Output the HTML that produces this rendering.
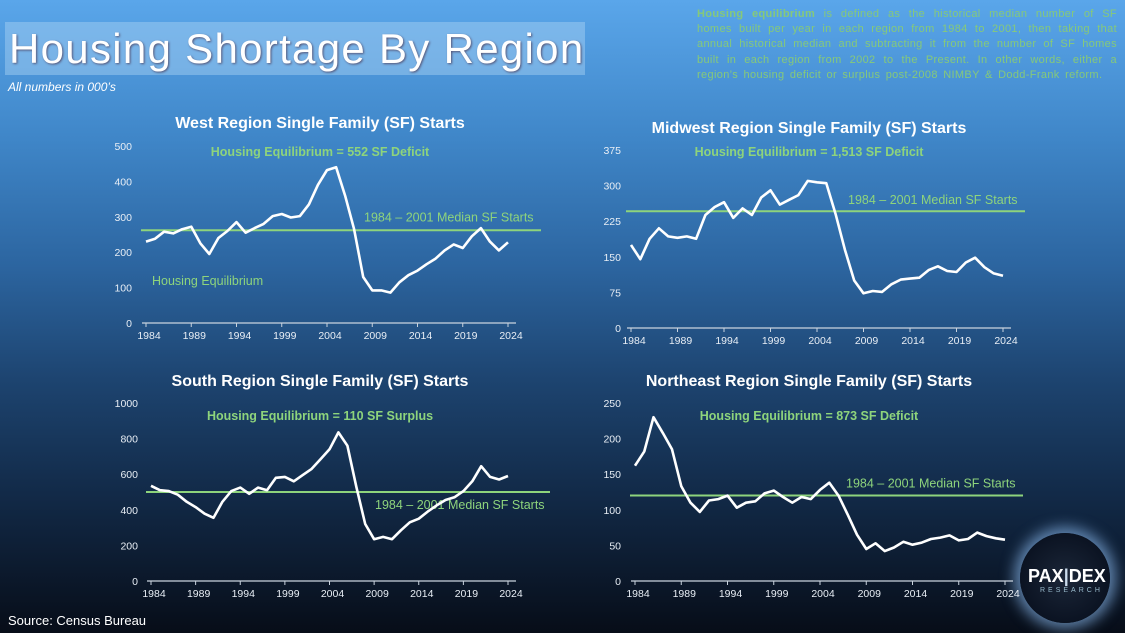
<!DOCTYPE html>
<html><head><meta charset="utf-8">
<style>
html,body{margin:0;padding:0}
body{width:1125px;height:633px;overflow:hidden;position:relative;font-family:"Liberation Sans",sans-serif;
background:linear-gradient(180deg,#5aa6ea 0%,#3f86c8 22%,#2c65a0 42%,#1d4470 60%,#122a48 78%,#070d18 100%);}
#title{position:absolute;left:5px;top:22px;width:580px;height:53px;background:rgba(170,210,245,0.45);}
#title span{position:absolute;left:4px;top:3px;font-size:42px;color:#fff;letter-spacing:1.3px;white-space:nowrap;text-shadow:1px 1px 2px #557;}
#sub{position:absolute;left:8px;top:80px;font-size:12px;font-style:italic;color:#fff;}
#note{position:absolute;left:697px;top:7px;width:420px;font-size:11px;line-height:15.2px;color:#86c97a;text-align:justify;letter-spacing:0.35px;word-spacing:2px;}
#src{position:absolute;left:8px;top:613px;font-size:13px;color:#fff;}
#logo{position:absolute;left:1020px;top:533px;width:90px;height:90px;border-radius:50%;
background:radial-gradient(circle,#1b2638 0%,#0b1322 70%,#2a4a70 100%);box-shadow:0 0 14px 6px rgba(150,200,255,0.6);}
#logo .t{position:absolute;left:8px;top:33px;font-size:18px;color:#fff;font-weight:bold;letter-spacing:0}
#logo .r{position:absolute;left:20px;top:54px;font-size:7px;color:#9bc;letter-spacing:3px}
svg{position:absolute;left:0;top:0}
</style></head><body>
<div id="title"><span>Housing Shortage By Region</span></div>
<div id="sub">All numbers in 000’s</div>
<div id="note"><b>Housing equilibrium</b> is defined as the historical median number of SF homes built per year in each region from 1984 to 2001, then taking that annual historical median and subtracting it from the number of SF homes built in each region from 2002 to the Present. In other words, either a region’s housing deficit or surplus post-2008 NIMBY &amp; Dodd-Frank reform.</div>
<div id="src">Source: Census Bureau</div>
<div id="logo"><span class="t">PAX<span style="color:#cde">|</span>DEX</span><span class="r">RESEARCH</span></div>
<svg id="svg" width="1125" height="633"></svg>
<script>
const years = [];
for (let y = 1984; y <= 2024; y++) years.push(y);
const tickYears = [1984,1989,1994,1999,2004,2009,2014,2019,2024];
const westValues = [230,238,258,253,265,272,225,195,240,260,285,255,268,280,302,308,298,302,335,390,432,440,360,265,130,92,92,86,115,135,148,166,182,205,222,212,245,268,230,205,228];
const midwestValues = [175,145,188,210,193,190,193,188,238,255,265,232,252,238,275,290,260,270,280,310,307,305,240,165,100,73,78,76,92,102,104,106,122,130,120,118,138,148,128,115,110];
const southValues = [535,510,505,485,445,415,378,355,445,505,525,490,525,510,580,585,560,595,630,685,740,835,760,530,320,235,248,235,285,330,350,390,425,455,470,505,560,645,585,570,590];
const northeastValues = [162,182,230,208,185,133,110,97,113,115,120,103,110,112,123,127,118,110,118,115,128,138,120,93,65,45,53,42,47,55,51,54,59,61,64,57,59,68,63,60,58];
const westTicks = [0,100,200,300,400,500];
const midwestTicks = [0,75,150,225,300,375];
const southTicks = [0,200,400,600,800,1000];
const northeastTicks = [0,50,100,150,200,250];
const westMedian = 262, midwestMedian = 246, southMedian = 500, northeastMedian = 120;

const NS = "http://www.w3.org/2000/svg";
const svg = document.getElementById('svg');
function mk(tag, attrs, parent){ const e=document.createElementNS(NS,tag); for(const k in attrs) e.setAttribute(k,attrs[k]); (parent||svg).appendChild(e); return e; }

function chart(key, title, subtitle, values, ticks, median, L){
  const g = mk('g',{});
  
  
  const yMax = ticks[ticks.length-1];
  const x = yr => L.x0 + (yr-1984)/(2024-1984)*(L.x1-L.x0);
  const y = v => L.y0 - v/yMax*(L.y0-L.yTop);
  const t = mk('text',{x:L.cx,y:L.titleY,'text-anchor':'middle','font-size':16,'font-weight':'bold',fill:'#fff'},g);
  t.textContent = title;
  
  
  const s = mk('text',{x:L.cx,y:L.subY,'text-anchor':'middle','font-size':12.5,'font-weight':'bold',fill:'#8ed47c'},g);
  s.textContent = subtitle;
  
  
  ticks.forEach(v=>{
    const tl = mk('text',{x:L.yLabX,y:y(v)+4,'text-anchor':'end','font-size':10.5,fill:'#e8eef5'},g);
    tl.textContent = v;
    
    
  });
  const ax = mk('line',{x1:L.x0-4,x2:L.x1+8,y1:L.y0,y2:L.y0,stroke:'#c9d3de','stroke-width':1.2},g);
  
  
  tickYears.forEach(yr=>{
    mk('line',{x1:x(yr),x2:x(yr),y1:L.y0,y2:L.y0+4,stroke:'#c9d3de','stroke-width':1},g);
    const xl = mk('text',{x:x(yr)+3,y:L.y0+16,'text-anchor':'middle','font-size':10.5,fill:'#e8eef5'},g);
    xl.textContent = yr;
    
    
  });
  const ml = mk('line',{x1:L.x0-5,x2:L.mEnd,y1:y(median),y2:y(median),stroke:'#8ed47c','stroke-width':2},g);
  
  
  const mt = mk('text',{x:L.mTextX,y:y(median)+L.mTextDy,'font-size':12.5,fill:'#8ed47c'},g);
  mt.textContent = '1984 – 2001 Median SF Starts';
  
  
  const d = values.map((v,i)=>(i?'L':'M')+x(years[i]).toFixed(1)+','+y(v).toFixed(1)).join(' ');
  const p = mk('path',{d:d,fill:'none',stroke:'#fff','stroke-width':2.6,'stroke-linejoin':'round'},g);
  
  
  return {g,x,y};
}

const w = chart('west','West Region Single Family (SF) Starts','Housing Equilibrium = 552 SF Deficit',westValues,westTicks,westMedian,
  {x0:146,x1:508,y0:323,yTop:146,cx:320,titleY:128,subY:156,yLabX:132,mEnd:541,mTextX:364,mTextDy:-9});
const he = mk('text',{x:152,y:285,'font-size':12.5,fill:'#8ed47c'},w.g);
he.textContent = 'Housing Equilibrium';


chart('midwest','Midwest Region Single Family (SF) Starts','Housing Equilibrium = 1,513 SF Deficit',midwestValues,midwestTicks,midwestMedian,
  {x0:631,x1:1003,y0:328,yTop:150,cx:809,titleY:133,subY:156,yLabX:621,mEnd:1025,mTextX:848,mTextDy:-7});
chart('south','South Region Single Family (SF) Starts','Housing Equilibrium = 110 SF Surplus',southValues,southTicks,southMedian,
  {x0:151,x1:508,y0:581,yTop:403,cx:320,titleY:386,subY:420,yLabX:138,mEnd:550,mTextX:375,mTextDy:17});
chart('northeast','Northeast Region Single Family (SF) Starts','Housing Equilibrium = 873 SF Deficit',northeastValues,northeastTicks,northeastMedian,
  {x0:635,x1:1005,y0:581,yTop:403,cx:809,titleY:386,subY:420,yLabX:621,mEnd:1023,mTextX:846,mTextDy:-8});
</script>
</body></html>
